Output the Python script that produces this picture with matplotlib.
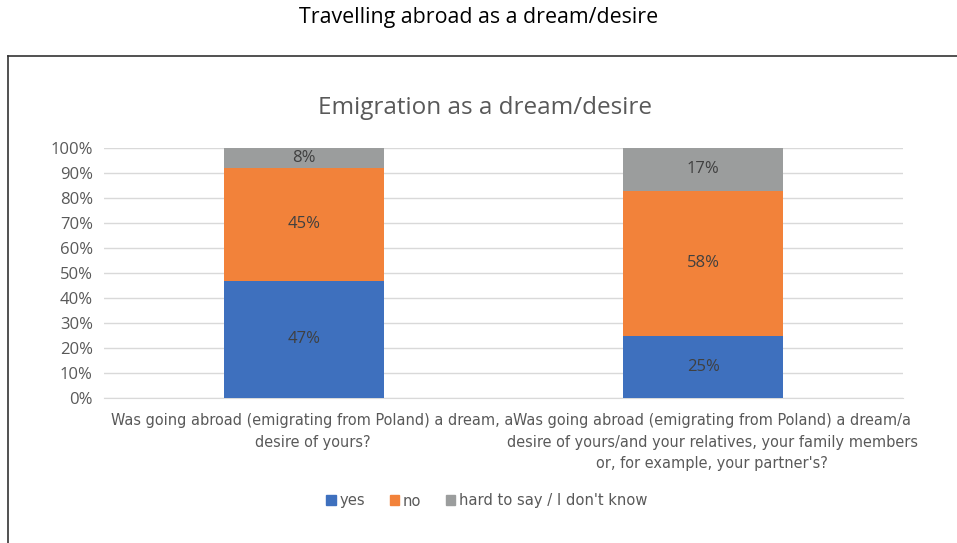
import matplotlib.pyplot as plt
from matplotlib.lines import Line2D
from matplotlib.patches import Patch

# survey answers, share of respondents (%)
questions = [
    "Was going abroad (emigrating from Poland) a dream, a\ndesire of yours?",
    "Was going abroad (emigrating from Poland) a dream/a\ndesire of yours/and your relatives, your family members\nor, for example, your partner's?",
]
answers = ["yes", "no", "hard to say / I don't know"]
yes = [47, 25]
no = [45, 58]
dont_know = [8, 17]

colors = ["#3E70BE", "#F2823A", "#9B9D9D"]
plt.rcParams['font.family'] = ['Open Sans', 'DejaVu Sans']
narrow = ['Liberation Sans Narrow', 'DejaVu Sans']

fig = plt.figure(figsize=(9.57, 5.43), dpi=100)

# outer title and frame
fig.text(0.5, 1 - 18 / 543, "Travelling abroad as a dream/desire", ha='center', va='center',
         fontsize=15.4, color='black')
fig.add_artist(Line2D([8 / 957, 8 / 957], [0, 1 - 56 / 543], transform=fig.transFigure,
                      color='#333333', lw=1.2))
fig.add_artist(Line2D([8 / 957, 1], [1 - 56 / 543, 1 - 56 / 543], transform=fig.transFigure,
                      color='#333333', lw=1.2))

ax = fig.add_axes([104 / 957, 1 - 398 / 543, 799 / 957, 250 / 543])
x = range(len(questions))
bottom2 = [a + b for a, b in zip(yes, no)]
series = [(yes, [0, 0]), (no, yes), (dont_know, bottom2)]
for (vals, bot), col, name in zip(series, colors, answers):
    bars = ax.bar(x, vals, bottom=bot, width=0.4, color=col, label=name, zorder=3)
    for b, v in zip(bars, vals):
        ax.text(b.get_x() + b.get_width() / 2, b.get_y() + v / 2, f"{v}%", ha='center',
                va='center', fontsize=12, color='#404040', zorder=4)

ax.set_xlim(-0.5, 1.5)
ax.set_ylim(0, 100)
ax.set_yticks(range(0, 101, 10))
ax.set_yticklabels([f"{t}%" for t in range(0, 101, 10)])
ax.yaxis.grid(True, color='#D9D9D9', lw=1, zorder=0)
# category labels sit a little right of the bar centres
ax.set_xticks([i + 0.022 for i in x])
ax.set_xticklabels(questions, fontsize=11.6, color='#595959', linespacing=1.55,
                   family=narrow, fontstretch='condensed')
ax.tick_params(axis='x', length=0, pad=11)
ax.tick_params(axis='y', length=0, labelsize=12, labelcolor='#595959', pad=8)
for s in ['top', 'right', 'left']:
    ax.spines[s].set_visible(False)
ax.spines['bottom'].set_color('#D9D9D9')

fig.text(485 / 957, 1 - 108 / 543, "Emigration as a dream/desire", ha='center', va='center',
         fontsize=17.5, color='#595959')

handles = [Patch(color=c, label=n) for c, n in zip(colors, answers)]
fig.legend(handles=handles, loc='center', bbox_to_anchor=(487 / 957, 1 - 501 / 543), ncol=3,
           frameon=False, handlelength=0.55, handleheight=0.55, handletextpad=0.25,
           columnspacing=1.5, prop={'family': narrow, 'size': 11.8, 'stretch': 'condensed'},
           labelcolor='#595959')

fig.savefig("out.png", dpi=100)
